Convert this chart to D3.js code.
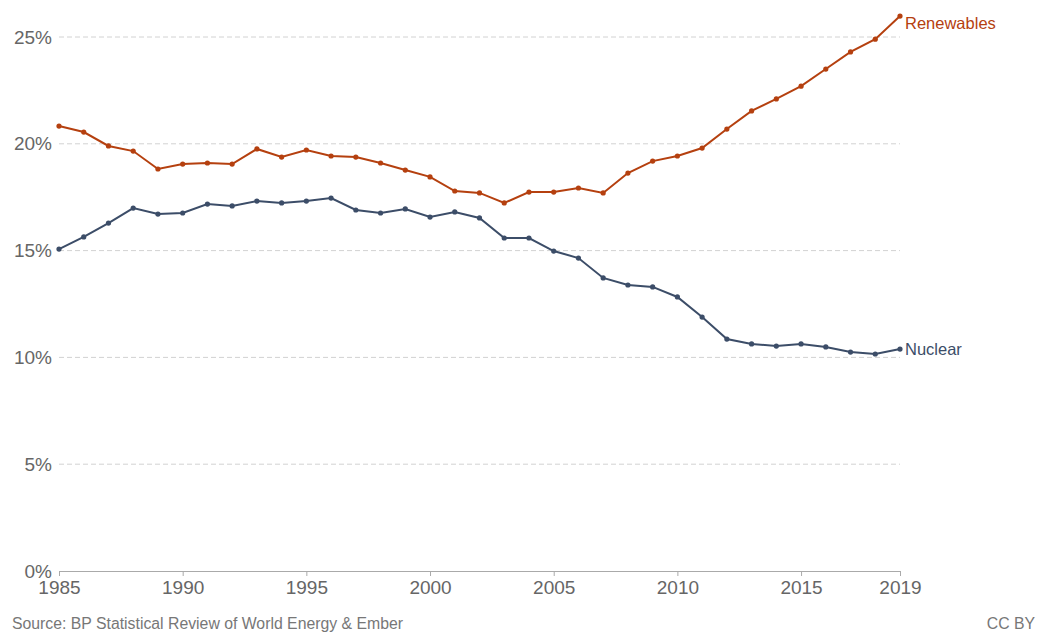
<!DOCTYPE html>
<html>
<head>
<meta charset="utf-8">
<script src="https://cdn.jsdelivr.net/npm/d3@7"></script>
<style>
  body { margin: 0; background: #fff; font-family: "Liberation Sans", Arial, sans-serif; }
  .grid line { stroke: #d2d2d2; stroke-dasharray: 5 3; }
  .tick text { fill: #666; }
</style>
</head>
<body>
<div id="chart"></div>
<script>
// Data
var years = d3.range(1985, 2020);
var renewables = [20.83, 20.55, 19.9, 19.66, 18.82, 19.05, 19.1, 19.05, 19.76, 19.38,
    19.71, 19.43, 19.38, 19.1, 18.77, 18.45, 17.79, 17.7, 17.23, 17.74,
    17.74, 17.93, 17.7, 18.63, 19.19, 19.43, 19.8, 20.69, 21.54, 22.1,
    22.7, 23.5, 24.3, 24.9, 25.98];
var nuclear = [15.07, 15.64, 16.29, 16.99, 16.71, 16.76, 17.18, 17.09, 17.32, 17.23,
    17.32, 17.46, 16.9, 16.76, 16.95, 16.57, 16.81, 16.53, 15.59, 15.59,
    14.98, 14.65, 13.72, 13.39, 13.3, 12.83, 11.89, 10.86, 10.63, 10.53,
    10.63, 10.49, 10.25, 10.16, 10.39];
var xTicks = [1985, 1990, 1995, 2000, 2005, 2010, 2015, 2019];
var yTicks = [0, 5, 10, 15, 20, 25];
var seriesNames = ["Renewables", "Nuclear"];
var seriesColors = ["#b5400f", "#3c4d68"];

var W = 1037, H = 633;
var margin = { top: 37, right: 137, bottom: 62, left: 59 },
    width = W - margin.left - margin.right,
    height = H - margin.top - margin.bottom;

var svg = d3.select("#chart")
    .append("svg")
    .attr("width", W)
    .attr("height", H);

var g = svg.append("g")
    .attr("transform", "translate(" + margin.left + "," + margin.top + ")");

var xScale = d3.scaleLinear().domain([1985, 2019]).range([0, width]);
var yScale = d3.scaleLinear().domain([0, 25]).range([height, 0]);

// Gridlines
g.append("g")
    .attr("class", "grid")
    .selectAll("line")
    .data(yTicks.filter(d => d > 0))
    .enter().append("line")
    .attr("x1", 0).attr("x2", width)
    .attr("y1", d => yScale(d)).attr("y2", d => yScale(d));

// Y labels
g.append("g")
    .selectAll("text")
    .data(yTicks)
    .enter().append("text")
    .attr("x", -7)
    .attr("y", d => yScale(d))
    .attr("dy", "0.35em")
    .attr("text-anchor", "end")
    .attr("fill", "#666")
    .style("font-size", "19px")
    .text(d => d + "%");

// X axis
var xAxis = d3.axisBottom(xScale)
    .tickValues(xTicks)
    .tickFormat(d3.format("d"))
    .tickSize(5)
    .tickPadding(5);
var xg = g.append("g")
    .attr("transform", "translate(0," + height + ")")
    .call(xAxis);
xg.select(".domain").attr("stroke", "#aaa");
xg.selectAll(".tick line").attr("stroke", "#aaa");
xg.selectAll(".tick text").style("font-size", "19px").attr("fill", "#666");

// Lines
var line = d3.line()
    .x((d, i) => xScale(years[i]))
    .y(d => yScale(d));

[renewables, nuclear].forEach(function (vals, k) {
    g.append("path")
        .datum(vals)
        .attr("fill", "none")
        .attr("stroke", seriesColors[k])
        .attr("stroke-width", 2)
        .attr("d", line);
    g.selectAll(".dot" + k)
        .data(vals)
        .enter().append("circle")
        .attr("cx", (d, i) => xScale(years[i]))
        .attr("cy", d => yScale(d))
        .attr("r", 2.6)
        .attr("fill", seriesColors[k]);
    g.append("text")
        .attr("x", xScale(2019) + 5)
        .attr("y", yScale(vals[vals.length - 1]) + (k === 0 ? 7 : 0))
        .attr("dy", "0.35em")
        .attr("fill", seriesColors[k])
        .style("font-size", "16.5px")
        .text(seriesNames[k]);
});

// Footer
svg.append("text")
    .attr("x", 12).attr("y", 629)
    .attr("fill", "#777")
    .style("font-size", "15.8px")
    .text("Source: BP Statistical Review of World Energy & Ember");
svg.append("text")
    .attr("x", 1035).attr("y", 629)
    .attr("text-anchor", "end")
    .attr("fill", "#777")
    .style("font-size", "15.8px")
    .text("CC BY");
</script>
</body>
</html>
